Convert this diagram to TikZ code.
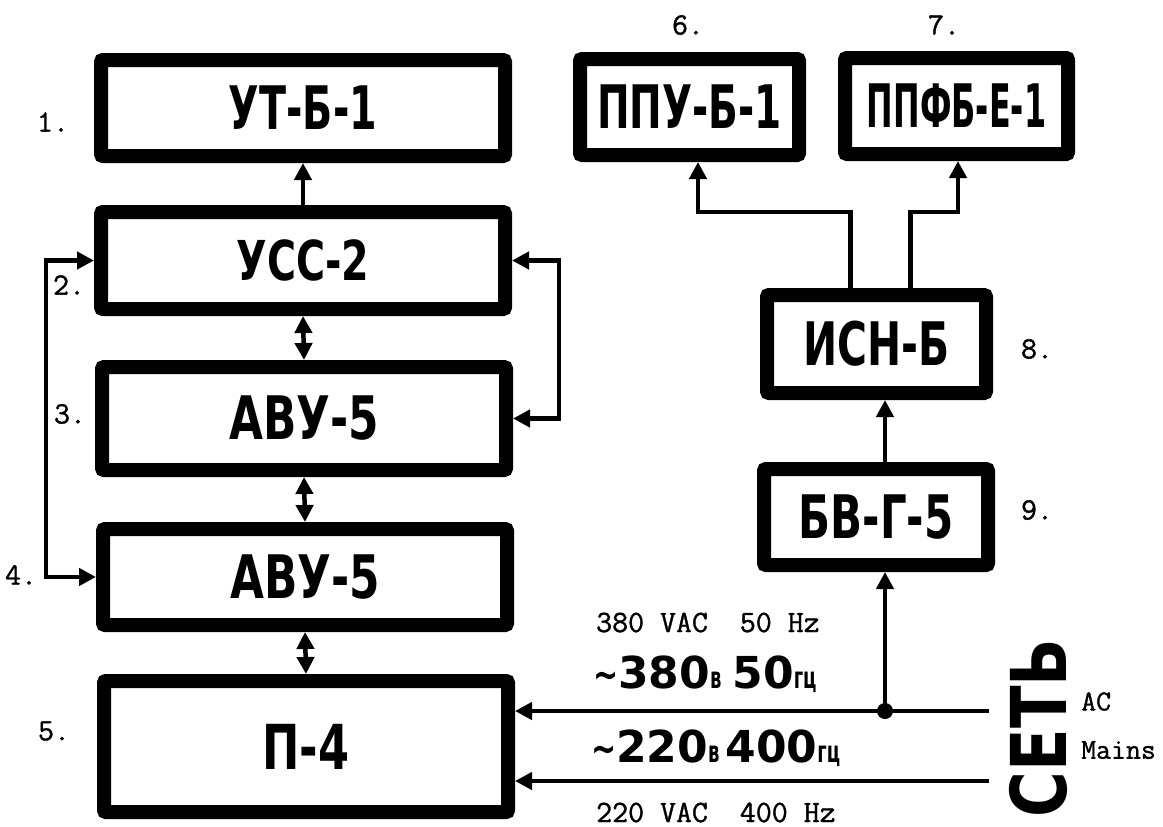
\documentclass[tikz,border=0pt]{standalone}
\usepackage{fontspec}
\usepackage{graphicx}
\usetikzlibrary{arrows.meta}
\newfontfamily\blkfont{DejaVu Sans}
\newfontfamily\twfont{Latin Modern Mono}[FakeBold=1.2]
\newcommand\blk{\blkfont\bfseries}
\newcommand\tld{{\blkfont\fontsize{40}{40}\selectfont\scalebox{0.75}[1]{\textasciitilde}}}
\newcommand\sml[1]{{\fontsize{30}{30}\selectfont\scalebox{0.6}[1]{#1}}}
\begin{document}
\begin{tikzpicture}[x=1pt,y=-1pt,
  blk/.style={draw, line width=14pt, rounded corners=2pt, fill=white, inner sep=0pt,
    font=\blk\fontsize{60}{60}\selectfont},
  num/.style={font=\twfont\fontsize{31}{31}\selectfont, inner sep=0pt},
  conn/.style={line width=4.5pt},
  arr/.style={conn, -{Triangle[length=17pt,width=17pt]}},
  darr/.style={conn, {Triangle[length=17pt,width=17pt]}-{Triangle[length=17pt,width=17pt]}},
  mains/.style={anchor=base west, inner sep=0pt, font=\blk\fontsize{44}{44}\selectfont}
]
\useasboundingbox (0,0) rectangle (1163,827);
\fill[white] (0,0) rectangle (1163,827);

% left column
\node[blk, minimum width=404pt, minimum height=96pt]  (b1) at (303,108)   {\scalebox{0.66}[1]{УТ-Б-1}};
\node[blk, minimum width=404pt, minimum height=97pt]  (b2) at (303,260.5) {\scalebox{0.72}[1]{\fontsize{55}{55}\selectfont УСС-2}};
\node[blk, minimum width=404pt, minimum height=103pt] (b3) at (304,418.5) {\scalebox{0.73}[1]{АВУ-5}};
\node[blk, minimum width=404pt, minimum height=96pt]  (b4) at (305,577)   {\scalebox{0.73}[1]{АВУ-5}};
\node[blk, minimum width=404pt, minimum height=131pt] (b5) at (306,746.5) {\scalebox{0.72}[1]{\fontsize{62}{62}\selectfont П-4}};

% right column
\node[blk, minimum width=219pt, minimum height=96pt] (b6) at (689.5,107) {\scalebox{0.65}[1]{ППУ-Б-1}};
\node[blk, minimum width=223pt, minimum height=96pt] (b7) at (956.5,106) {\scalebox{0.53}[1]{ППФБ-Е-1}};
\node[blk, minimum width=219pt, minimum height=98pt] (b8) at (876.5,344) {\scalebox{0.68}[1]{ИСН-Б}};
\node[blk, minimum width=224pt, minimum height=96pt] (b9) at (876,517)   {\scalebox{0.70}[1]{БВ-Г-5}};

% numbers
\node[num] (n1) at (53,122) {1.};
\node[num] (n2) at (69,285) {2.};
\node[num] (n3) at (70,414) {3.};
\node[num] (n4) at (21,575) {4.};
\node[num] (n5) at (54,731) {5.};
\node[num] (n6) at (688,25) {6.};
\node[num] (n7) at (944,25) {7.};
\node[num] (n8) at (1037,349) {8.};
\node[num] (n9) at (1037,510) {9.};

% left column connectors
\draw[arr] (b2.north) -- (b1.south);
\draw[darr] (b2.south) -- (b3.north);
\draw[darr] (b3.south) -- (b4.north);
\draw[darr] (b4.south) -- (b5.north);
\coordinate (lb) at (46,0);
\coordinate (rb) at (559,0);
\draw[darr] (b2.west) -- (b2.west -| lb) |- (b4.west);
\draw[darr] (b2.east) -- (b2.east -| rb) |- (b3.east);

% right column connectors
\coordinate (j6) at (698,212);
\coordinate (j7) at (958,212);
\draw[arr] ([xshift=-26pt]b8.north) |- (j6) -- (b6.south -| j6);
\draw[arr] ([xshift=34pt]b8.north) |- (j7) -- (b7.south -| j7);

% mains
\coordinate (m1) at (989,711);
\coordinate (m2) at (989,781);
\coordinate (dot) at (885,711);
\draw[arr] (m1) -- (m1 -| b5.east);
\draw[arr] (m2) -- (m2 -| b5.east);
\draw[arr] (dot) -- (b9.south -| dot);
\draw[arr] (b9.north -| dot) -- (b8.south -| dot);
\fill (dot) circle (8pt);

% texts
\node[num, anchor=west] (t380) at (596,622.5) {380 VAC\ \ 50 Hz};
\node[num, anchor=west] (t220) at (596,812.5) {220 VAC\ \ 400 Hz};
\node[mains] (v380) at (593,688) {\tld380\sml{в}\hspace{11pt}50\sml{гц}};
\node[mains] (v220) at (591,762) {\tld220\sml{в}\hspace{6pt}400\sml{гц}};
\node[rotate=90, inner sep=0pt, font=\blk\fontsize{77}{77}\selectfont] (set) at (1038,728) {\scalebox{0.81}[1]{СЕТЬ}};
\node[num, anchor=west, font=\twfont\fontsize{29}{29}\selectfont] (ac) at (1081,701.5) {AC};
\node[num, anchor=west, font=\twfont\fontsize{29}{29}\selectfont] (mn) at (1081,750) {Mains};
\end{tikzpicture}
\end{document}
